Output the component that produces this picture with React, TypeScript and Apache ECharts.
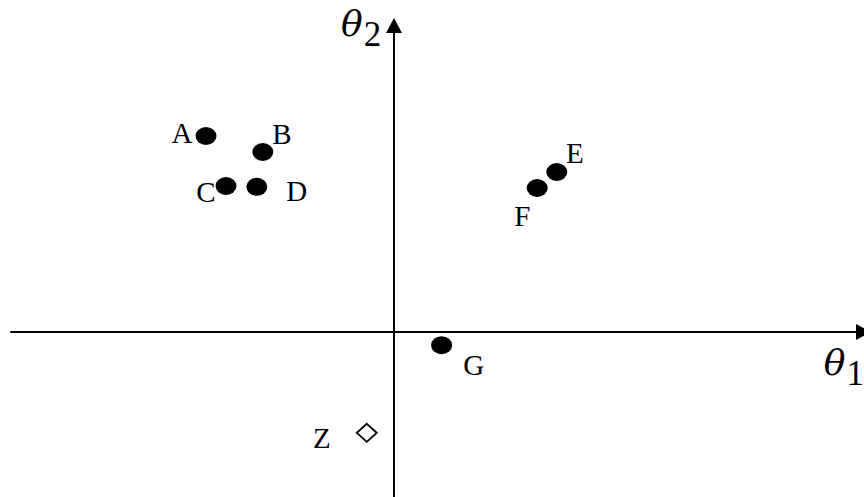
import { useEffect, useRef } from "react";
import * as echarts from "echarts";

// Parameter-space points (θ1, θ2)
const pointNames = ["A", "B", "C", "D", "E", "F", "G"];
const theta1Values = [-4.7, -3.28, -4.2, -3.43, 4.07, 3.58, 1.19];
const theta2Values = [4.9, 4.5, 3.65, 3.63, 4.0, 3.6, -0.33];

// Query point drawn as an open diamond
const queryNames = ["Z"];
const queryTheta1 = [-0.68];
const queryTheta2 = [-2.52];

// Axis titles: symbol and subscript
const xTitle = ["θ", "1"];
const yTitle = ["θ", "2"];

const SERIF = "Liberation Serif";

// Where each letter sits relative to its marker (px)
const labelOffsets: Record<string, [number, number]> = {
  A: [-24, -3],
  B: [19, -18],
  C: [-20, 5.5],
  D: [40, 4.5],
  E: [18, -19],
  F: [-15, 27.5],
  G: [32, 20],
  Z: [-45, 5],
};

// Filled ellipse marker (stretched to symbolSize)
const ellipseSymbol = "path://M0,10A10,10,0,1,1,20,10A10,10,0,1,1,0,10Z";

// θ with a lowered subscript, as one rich text
function axisTitle(parts: string[], x: number, y: number, align: "left" | "right") {
  return {
    type: "text",
    x,
    y,
    style: {
      text: `{sym|${parts[0]}}{sub|${parts[1]}}`,
      textAlign: align,
      textVerticalAlign: "top",
      fill: "#000",
      rich: {
        sym: {
          fontFamily: "DejaVu Serif",
          fontStyle: "italic",
          fontSize: 36,
          verticalAlign: "top",
          fill: "#000",
        },
        sub: {
          fontFamily: SERIF,
          fontSize: 35,
          verticalAlign: "top",
          padding: [12, 0, 0, 1],
          fill: "#000",
        },
      },
    },
  };
}

export default function App() {
  const ref = useRef<HTMLDivElement>(null);

  useEffect(() => {
    if (!ref.current) return;
    const chart = echarts.init(ref.current, null, { renderer: "svg" });

    const labelBase = {
      show: true,
      position: "inside" as const,
      formatter: "{b}",
      color: "#000",
      fontFamily: SERIF,
      fontSize: 29,
      textBorderWidth: 0,
    };

    const axisCommon = {
      type: "value" as const,
      axisLine: {
        show: true,
        onZero: true,
        symbol: ["none", "triangle"],
        symbolSize: [16, 15],
        lineStyle: { color: "#000", width: 2 },
      },
      axisTick: { show: false },
      axisLabel: { show: false },
      splitLine: { show: false },
    };

    chart.setOption({
      animation: false,
      backgroundColor: "#fff",
      grid: { left: 11, right: 0.5, top: 25.5, bottom: 0, containLabel: false },
      xAxis: { ...axisCommon, min: -9.575, max: 11.7375 },
      yAxis: { ...axisCommon, min: -4.125, max: 7.6625 },
      series: [
        {
          type: "scatter",
          symbol: ellipseSymbol,
          symbolSize: [21, 18],
          itemStyle: { color: "#000", opacity: 1 },
          label: labelBase,
          data: pointNames.map((name, i) => ({
            name,
            value: [theta1Values[i], theta2Values[i]],
            label: { offset: labelOffsets[name] },
          })),
        },
        {
          type: "scatter",
          symbol: "diamond",
          symbolSize: [20, 18],
          itemStyle: { color: "#fff", borderColor: "#000", borderWidth: 1.8, opacity: 1 },
          label: labelBase,
          data: queryNames.map((name, i) => ({
            name,
            value: [queryTheta1[i], queryTheta2[i]],
            label: { offset: labelOffsets[name] },
          })),
        },
      ],
      graphic: [
        axisTitle(yTitle, 341, 5, "left"),
        axisTitle(xTitle, 864, 344, "right"),
      ],
    });

    return () => chart.dispose();
  }, []);

  return (
    <div
      ref={ref}
      style={{ position: "fixed", left: 0, top: 0, width: 864, height: 497, background: "#fff" }}
    />
  );
}
